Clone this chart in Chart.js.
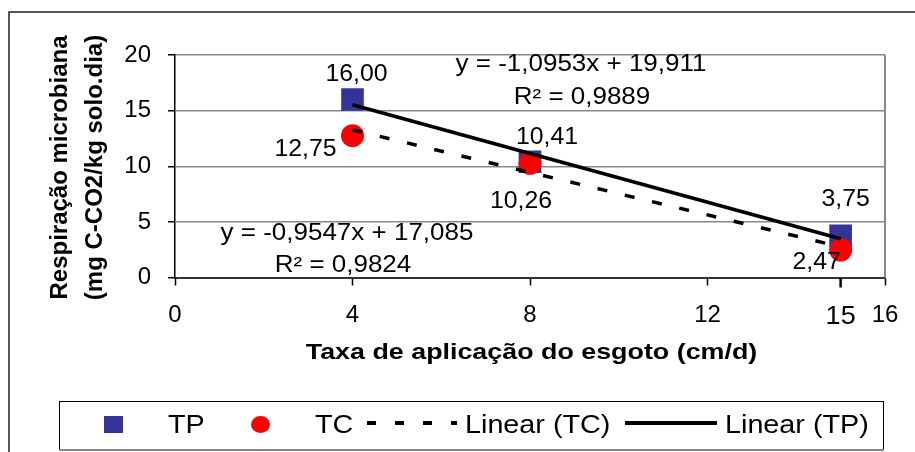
<!DOCTYPE html>
<html>
<head>
<meta charset="utf-8">
<script src="https://cdn.jsdelivr.net/npm/chart.js@4.4.0/dist/chart.umd.min.js"></script>
<style>
  body { margin: 0; background: #fff; }
  #wrap { width: 915px; height: 452px; }
</style>
</head>
<body>
<div id="wrap"><canvas id="myChart" width="915" height="452"></canvas></div>
<script>
/*----------------------------- data ----------------------------*/
const xRates = [4, 8, 15];
const tpValues = [16.00, 10.41, 3.75];
const tcValues = [12.75, 10.26, 2.47];
// trend line end points (x = 4 and x = 15)
const trendX = [4, 15];
const tpTrend = [15.53, 3.48];
const tcTrend = [13.27, 2.76];
const xTickValues = [0, 4, 8, 12, 16];
const yTickValues = [0, 5, 10, 15, 20];
const extraTick = 15;
const tpEquation = ['y = -1,0953x + 19,911', 'R² = 0,9889'];
const tcEquation = ['y = -0,9547x + 17,085', 'R² = 0,9824'];
const xTitle = 'Taxa de aplicação do esgoto (cm/d)';
const yTitle = ['Respiração microbiana', '(mg C-CO2/kg solo.dia)'];
const legendLabels = ['TP', 'TC', 'Linear (TC)', 'Linear (TP)'];

const FONT = '"Liberation Sans", Arial, sans-serif';
const BLUE = '#333399';
const RED = '#ff0000';

function toPoints(xs, ys) {
    return xs.map((x, i) => ({ x: x, y: ys[i] }));
}
function fmt(v) {
    return v.toFixed(2).replace('.', ',');
}
// text slightly stretched sideways like the original
function drawText(ctx, str, x, y, font, sx, align, baseline) {
    ctx.save();
    ctx.translate(x, y);
    ctx.scale(sx, 1);
    ctx.font = font;
    ctx.fillStyle = '#000';
    ctx.textAlign = align || 'center';
    ctx.textBaseline = baseline || 'middle';
    ctx.fillText(str, 0, 0);
    ctx.restore();
}

// label offsets from each point (px)
const tpLabelOffsets = [[4, -25], [17, -24], [5, -36]];
const tcLabelOffsets = [[-47, 14], [-9, 38], [-24, 13]];

/*---------------------------- plugin ---------------------------*/
const extras = {
    id: 'extras',
    beforeDraw(chart) {
        const ctx = chart.ctx;
        ctx.save();
        ctx.fillStyle = '#fff';
        ctx.fillRect(0, 0, chart.width, chart.height);
        ctx.restore();
    },
    afterDraw(chart) {
        const ctx = chart.ctx;
        const area = chart.chartArea;
        const xs = chart.scales.x;

        // outer frame
        ctx.save();
        ctx.strokeStyle = '#222';
        ctx.lineWidth = 1.5;
        ctx.beginPath();
        ctx.moveTo(9, 452);
        ctx.lineTo(9, 12);
        ctx.lineTo(915, 12);
        ctx.stroke();

        // plot area right edge
        ctx.strokeStyle = '#888';
        ctx.lineWidth = 2;
        ctx.beginPath();
        ctx.moveTo(area.right, area.top);
        ctx.lineTo(area.right, area.bottom);
        ctx.stroke();

        // extra tick at 15
        const px15 = xs.getPixelForValue(extraTick);
        ctx.strokeStyle = '#000';
        ctx.lineWidth = 2.5;
        ctx.beginPath();
        ctx.moveTo(px15, area.bottom);
        ctx.lineTo(px15, area.bottom + 10);
        ctx.stroke();
        ctx.restore();
        drawText(ctx, String(extraTick), px15, 324, '25px ' + FONT, 1.08, 'center', 'alphabetic');

        // data labels
        const labelFont = '23px ' + FONT;
        chart.getDatasetMeta(0).data.forEach((pt, i) => {
            drawText(ctx, fmt(tpValues[i]), pt.x + tpLabelOffsets[i][0], pt.y + tpLabelOffsets[i][1], labelFont, 1.08);
        });
        chart.getDatasetMeta(1).data.forEach((pt, i) => {
            drawText(ctx, fmt(tcValues[i]), pt.x + tcLabelOffsets[i][0], pt.y + tcLabelOffsets[i][1], labelFont, 1.08);
        });

        // trend equations
        const eqFont = '23px ' + FONT;
        drawText(ctx, tpEquation[0], 581, 65, eqFont, 1.13);
        drawText(ctx, tpEquation[1], 582, 98, eqFont, 1.13);
        drawText(ctx, tcEquation[0], 347, 234, eqFont, 1.13);
        drawText(ctx, tcEquation[1], 343, 266, eqFont, 1.13);

        // axis titles
        drawText(ctx, xTitle, 531.5, 359, 'bold 22px ' + FONT, 1.22, 'center', 'alphabetic');
        ctx.save();
        ctx.font = 'bold 24px ' + FONT;
        ctx.fillStyle = '#000';
        ctx.textAlign = 'center';
        ctx.textBaseline = 'alphabetic';
        ctx.translate(67, 167.5);
        ctx.rotate(-Math.PI / 2);
        ctx.fillText(yTitle[0], 0, 0);
        ctx.fillText(yTitle[1], 0, 35);
        ctx.restore();

        // legend
        ctx.save();
        ctx.strokeStyle = '#000';
        ctx.lineWidth = 1;
        ctx.strokeRect(59.5, 401.5, 824, 48);
        ctx.strokeStyle = '#888';
        ctx.lineWidth = 2;
        ctx.beginPath();
        ctx.moveTo(59.5, 450);
        ctx.lineTo(884, 450);
        ctx.stroke();

        ctx.fillStyle = BLUE;
        ctx.fillRect(104, 416, 19, 17);
        ctx.fillStyle = RED;
        ctx.beginPath();
        ctx.ellipse(260.5, 424.5, 9.5, 8.5, 0, 0, Math.PI * 2);
        ctx.fill();

        ctx.strokeStyle = '#000';
        ctx.lineWidth = 4;
        ctx.setLineDash([9, 19]);
        ctx.beginPath();
        ctx.moveTo(367, 423);
        ctx.lineTo(457, 423);
        ctx.stroke();
        ctx.setLineDash([]);
        ctx.beginPath();
        ctx.moveTo(625, 423);
        ctx.lineTo(717, 423);
        ctx.stroke();
        ctx.restore();

        const legFont = '25px ' + FONT;
        drawText(ctx, legendLabels[0], 168, 433, legFont, 1.15, 'left', 'alphabetic');
        drawText(ctx, legendLabels[1], 315, 433, legFont, 1.15, 'left', 'alphabetic');
        drawText(ctx, legendLabels[2], 465, 433, legFont, 1.15, 'left', 'alphabetic');
        drawText(ctx, legendLabels[3], 725, 433, legFont, 1.15, 'left', 'alphabetic');
    }
};

/*----------------------------- chart ---------------------------*/
const data = {
    datasets: [
        {
            label: 'TP',
            data: toPoints(xRates, tpValues),
            pointStyle: 'rect',
            pointRadius: 16,
            backgroundColor: BLUE,
            borderColor: BLUE,
            borderWidth: 0,
            order: 3
        },
        {
            label: 'TC',
            data: toPoints(xRates, tcValues),
            pointStyle: 'circle',
            pointRadius: 11.5,
            backgroundColor: RED,
            borderColor: RED,
            borderWidth: 0,
            order: 2
        },
        {
            label: 'Linear (TC)',
            data: toPoints(trendX, tcTrend),
            showLine: true,
            pointRadius: 0,
            borderColor: '#000',
            borderWidth: 3.5,
            borderDash: [10, 18],
            order: 1
        },
        {
            label: 'Linear (TP)',
            data: toPoints(trendX, tpTrend),
            showLine: true,
            pointRadius: 0,
            borderColor: '#000',
            borderWidth: 3.5,
            order: 0
        }
    ]
};

const config = {
    type: 'scatter',
    data: data,
    plugins: [extras],
    options: {
        responsive: false,
        animation: false,
        layout: {
            padding: { left: 0, right: 30, top: 55, bottom: 0 }
        },
        plugins: {
            legend: { display: false },
            tooltip: { enabled: false }
        },
        scales: {
            x: {
                type: 'linear',
                min: 0,
                max: 16,
                afterBuildTicks: s => { s.ticks = xTickValues.map(v => ({ value: v })); },
                afterFit: s => { s.height = 174.5; },
                ticks: {
                    color: '#000',
                    padding: 15,
                    maxRotation: 0,
                    font: { family: FONT, size: 24 }
                },
                grid: {
                    drawOnChartArea: false,
                    tickLength: 8,
                    tickColor: '#000',
                    tickWidth: 1.5
                },
                border: { color: '#333', width: 2 }
            },
            y: {
                min: 0,
                max: 20,
                afterBuildTicks: s => { s.ticks = yTickValues.map(v => ({ value: v })); },
                afterFit: s => { s.width = 175; },
                ticks: {
                    color: '#000',
                    padding: 17,
                    font: { family: FONT, size: 24 }
                },
                grid: {
                    color: '#888',
                    lineWidth: 1.5,
                    tickLength: 7,
                    tickColor: '#000'
                },
                border: { color: '#000', width: 1.5 }
            }
        }
    }
};

const myChart = new Chart(document.getElementById('myChart'), config);
</script>
</body>
</html>
